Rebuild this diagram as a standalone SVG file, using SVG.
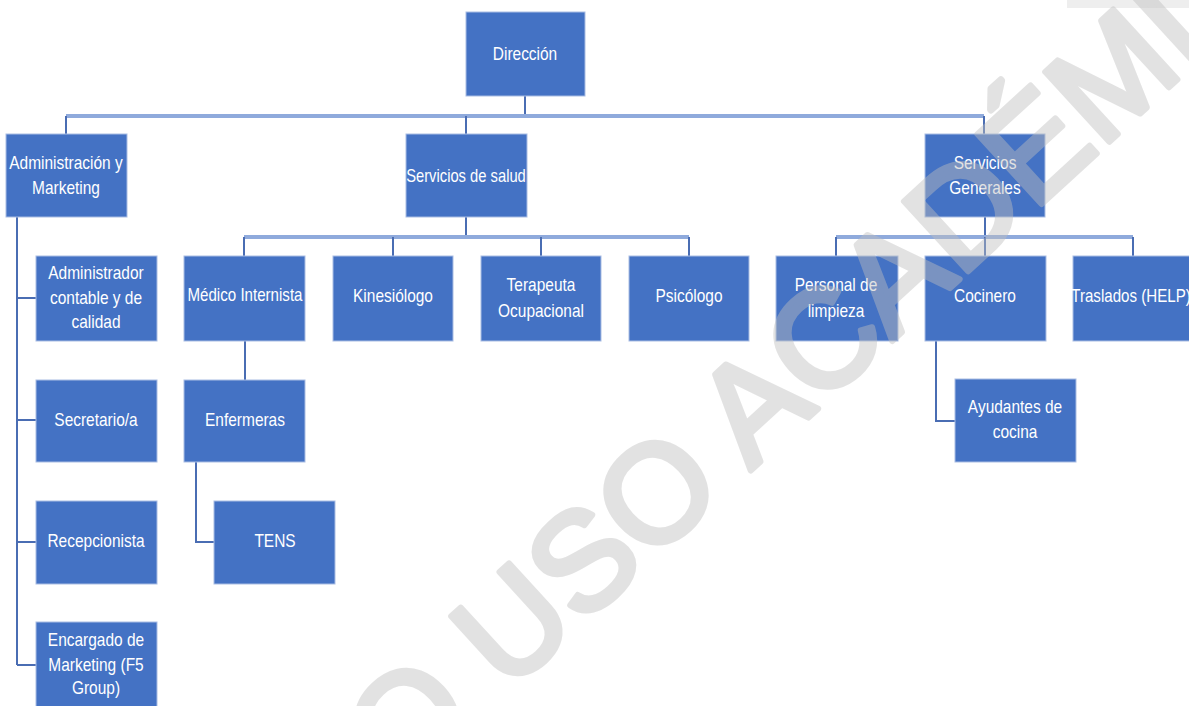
<svg xmlns="http://www.w3.org/2000/svg" width="1189" height="706" viewBox="0 0 1189 706">
<style>
.box{fill:#4472c4;stroke:#a9bde3;stroke-width:1}
.t{font-family:"Liberation Sans",Arial,sans-serif;font-size:18px;fill:#ffffff;text-anchor:middle}
.v{stroke:#4a6db3;stroke-width:2;fill:none}
.h{stroke:#8faadc;stroke-width:4;fill:none}
.wm{font-family:"Liberation Sans",Arial,sans-serif;font-size:138px;fill:#bfbfbf;stroke:#bfbfbf;stroke-width:6;stroke-linejoin:round;opacity:0.44}
</style>
<rect width="1189" height="706" fill="#ffffff"/>
<rect x="1067" y="0" width="122" height="8" fill="#eeeeee"/>
<g id="connectors">
<path class="v" d="M525 96V116"/>
<path class="h" d="M66 116H984"/>
<path class="v" d="M66 116V134M466 116V134M984 116V134"/>
<path class="v" d="M17 217V665M17 298H36M17 420H36M17 542H36M17 665H36"/>
<path class="v" d="M466 217V237"/>
<path class="h" d="M244 237H689"/>
<path class="v" d="M244 237V256M393 237V256M541 237V256M689 237V256"/>
<path class="v" d="M985 217V237"/>
<path class="h" d="M836 237H1133"/>
<path class="v" d="M836 237V256M985 237V256M1133 237V256"/>
<path class="v" d="M245 341V380"/>
<path class="v" d="M196 462V542H214"/>
<path class="v" d="M936 341V421H955"/>
</g>
<g id="direccion"><rect class="box" x="466" y="12" width="119" height="84"/><text class="t" transform="translate(525 0) scale(0.86 1)" y="60">Dirección</text></g>
<g id="administracion"><rect class="box" x="6" y="134" width="121" height="83"/><text class="t" transform="translate(66 0) scale(0.86 1)"><tspan x="0" y="169">Administración y</tspan><tspan x="0" y="194">Marketing</tspan></text></g>
<g id="salud"><rect class="box" x="406" y="134" width="121" height="83"/><text class="t" transform="translate(466 0) scale(0.82 1)" y="182">Servicios de salud</text></g>
<g id="generales"><rect class="box" x="925" y="134" width="120" height="83"/><text class="t" transform="translate(985 0) scale(0.86 1)"><tspan x="0" y="169">Servicios</tspan><tspan x="0" y="194">Generales</tspan></text></g>
<g id="administrador"><rect class="box" x="36" y="256" width="121" height="85"/><text class="t" transform="translate(96 0) scale(0.86 1)"><tspan x="0" y="279">Administrador</tspan><tspan x="0" y="304">contable y de</tspan><tspan x="0" y="328">calidad</tspan></text></g>
<g id="secretario"><rect class="box" x="36" y="380" width="121" height="82"/><text class="t" transform="translate(96 0) scale(0.86 1)" y="426">Secretario/a</text></g>
<g id="recepcionista"><rect class="box" x="36" y="501" width="121" height="83"/><text class="t" transform="translate(96 0) scale(0.86 1)" y="547">Recepcionista</text></g>
<g id="encargado"><rect class="box" x="36" y="622" width="121" height="86"/><text class="t" transform="translate(96 0) scale(0.86 1)"><tspan x="0" y="646">Encargado de</tspan><tspan x="0" y="671">Marketing (F5</tspan><tspan x="0" y="694">Group)</tspan></text></g>
<g id="medico"><rect class="box" x="184" y="256" width="121" height="85"/><text class="t" transform="translate(245 0) scale(0.84 1)" y="301">Médico Internista</text></g>
<g id="kinesiologo"><rect class="box" x="333" y="256" width="120" height="85"/><text class="t" transform="translate(393 0) scale(0.86 1)" y="302">Kinesiólogo</text></g>
<g id="terapeuta"><rect class="box" x="481" y="256" width="120" height="85"/><text class="t" transform="translate(541 0) scale(0.86 1)"><tspan x="0" y="291">Terapeuta</tspan><tspan x="0" y="317">Ocupacional</tspan></text></g>
<g id="psicologo"><rect class="box" x="629" y="256" width="120" height="85"/><text class="t" transform="translate(689 0) scale(0.86 1)" y="302">Psicólogo</text></g>
<g id="limpieza"><rect class="box" x="776" y="256" width="122" height="85"/><text class="t" transform="translate(836 0) scale(0.86 1)"><tspan x="0" y="291">Personal de</tspan><tspan x="0" y="317">limpieza</tspan></text></g>
<g id="cocinero"><rect class="box" x="925" y="256" width="121" height="85"/><text class="t" transform="translate(985 0) scale(0.86 1)" y="302">Cocinero</text></g>
<g id="traslados"><rect class="box" x="1073" y="256" width="121" height="85"/><text class="t" transform="translate(1131 0) scale(0.84 1)" y="302">Traslados (HELP)</text></g>
<g id="enfermeras"><rect class="box" x="184" y="380" width="121" height="82"/><text class="t" transform="translate(245 0) scale(0.86 1)" y="426">Enfermeras</text></g>
<g id="tens"><rect class="box" x="214" y="501" width="121" height="83"/><text class="t" transform="translate(275 0) scale(0.86 1)" y="547">TENS</text></g>
<g id="ayudantes"><rect class="box" x="955" y="379" width="121" height="83"/><text class="t" transform="translate(1015 0) scale(0.86 1)"><tspan x="0" y="413">Ayudantes de</tspan><tspan x="0" y="438">cocina</tspan></text></g>
<text class="wm" x="400" y="792" transform="rotate(-42.5 400 792)">O USO ACADÉMI</text>
</svg>
